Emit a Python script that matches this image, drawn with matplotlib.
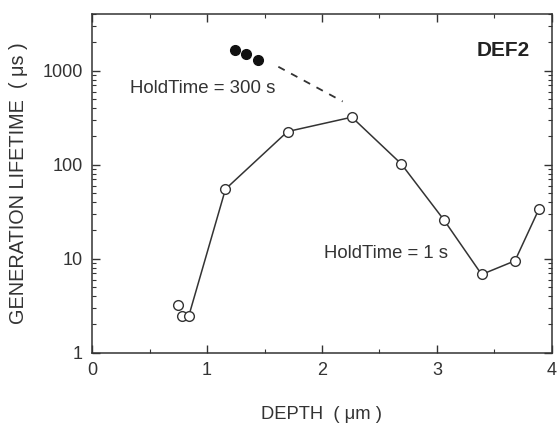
import matplotlib
matplotlib.use("Agg")
import matplotlib.pyplot as plt
from matplotlib.ticker import LogLocator, MultipleLocator, NullFormatter

plt.rcParams['font.family'] = ['Liberation Sans', 'DejaVu Sans']

# hold time = 1 s (open circles)
depth_1s = [0.75, 0.78, 0.84, 1.16, 1.70, 2.26, 2.69, 3.06, 3.39, 3.68, 3.89]
life_1s = [3.2, 2.45, 2.45, 55, 225, 320, 102, 26, 6.8, 9.5, 34]
# hold time = 300 s (filled circles)
depth_300s = [1.24, 1.34, 1.44]
life_300s = [1650, 1500, 1300]
# dashed guide
depth_dash = [1.62, 2.18]
life_dash = [1100, 470]

ink = '#333333'

fig = plt.figure(figsize=(5.59, 4.25), dpi=100)
ax = fig.add_axes([0.165, 0.170, 0.822, 0.797])

# first two points are not joined to the curve
ax.plot(depth_1s[:2], life_1s[:2], 'o', mfc='white', mec=ink, ms=7, mew=1.0)
ax.plot(depth_1s[2:], life_1s[2:], '-o', color=ink, mfc='white', mec=ink, ms=7, mew=1.0, lw=1.1)
ax.plot(depth_300s, life_300s, 'o', color='#111111', ms=7)
ax.plot(depth_dash, life_dash, '--', color=ink, lw=1.3, dashes=(4, 4))

ax.set_yscale('log')
ax.set_xlim(0, 4)
ax.set_ylim(1, 4000)
ax.xaxis.set_major_locator(MultipleLocator(1))
ax.xaxis.set_minor_locator(MultipleLocator(0.5))
ax.yaxis.set_major_locator(LogLocator(base=10, numticks=10))
ax.yaxis.set_minor_locator(LogLocator(base=10, subs=range(2, 10), numticks=10))
ax.yaxis.set_minor_formatter(NullFormatter())
ax.set_yticks([1, 10, 100, 1000])
ax.set_yticklabels(['1', '10', '100', '1000'])

ax.tick_params(which='both', direction='in', top=True, right=True, colors=ink,
               labelcolor=ink, labelsize=13, pad=7)
ax.tick_params(which='major', length=6, width=1)
ax.tick_params(which='minor', length=3, width=0.8)
for s in ax.spines.values():
    s.set_color(ink)
    s.set_linewidth(1.1)

ax.set_xlabel('DEPTH  ( \u03bcm )', fontsize=13.2, color=ink, labelpad=19)
ax.set_ylabel('GENERATION LIFETIME  ( \u03bcs )', fontsize=14.3, color=ink, labelpad=10)

ax.text(3.58, 1630, 'DEF2', fontsize=15, fontweight='bold', color='#222222',
        ha='center', va='center')
ax.text(0.33, 650, 'HoldTime = 300 s', fontsize=13.4, color=ink, ha='left', va='center')
ax.text(2.02, 11.5, 'HoldTime = 1 s', fontsize=13.3, color=ink, ha='left', va='center')

fig.savefig('out.png', dpi=100)
